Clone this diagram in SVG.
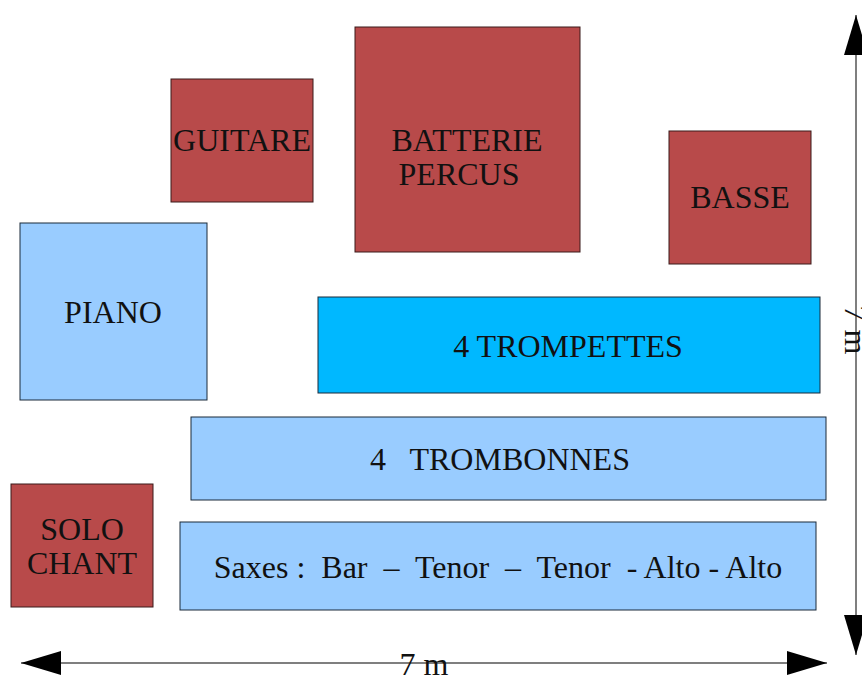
<svg xmlns="http://www.w3.org/2000/svg" width="862" height="675" viewBox="0 0 862 675">
<style>
.red{fill:#b84a4a;stroke:#3a1a1a;stroke-width:1}
.lb{fill:#99ccff;stroke:#1a2a3a;stroke-width:1}
.cy{fill:#00b8ff;stroke:#1a2a3a;stroke-width:1}
text{font-family:"Liberation Serif","Times New Roman",serif;font-size:32px;fill:#111;text-anchor:middle;white-space:pre}
.dim{stroke:#555;stroke-width:1.5;fill:none}
</style>
<defs>
<marker id="ah" viewBox="0 0 40 24" refX="40" refY="12" markerWidth="40" markerHeight="24" markerUnits="userSpaceOnUse" orient="auto">
<path d="M0,0 L40,12 L0,24 Z" fill="#000"/>
</marker>
</defs>
<g id="guitare"><rect class="red" x="171" y="79" width="142" height="123"/><text x="242" y="151">GUITARE</text></g>
<g id="batterie"><rect class="red" x="355" y="27" width="225" height="225"/><text x="467" y="151">BATTERIE</text><text x="459" y="185">PERCUS</text></g>
<g id="basse"><rect class="red" x="669" y="131" width="142" height="133"/><text x="740" y="208">BASSE</text></g>
<g id="piano"><rect class="lb" x="20" y="223" width="187" height="177"/><text x="113" y="323">PIANO</text></g>
<g id="trompettes"><rect class="cy" x="318" y="297" width="502" height="96"/><text x="568" y="357">4 TROMPETTES</text></g>
<g id="trombonnes"><rect class="lb" x="191" y="417" width="635" height="83"/><text x="500" y="470">4   TROMBONNES</text></g>
<g id="solo"><rect class="red" x="11" y="484" width="142" height="123"/><text x="82" y="540">SOLO</text><text x="82" y="574">CHANT</text></g>
<g id="saxes"><rect class="lb" x="180" y="522" width="636" height="88"/><text x="498" y="578">Saxes :  Bar  –  Tenor  –  Tenor  - Alto - Alto</text></g>
<g id="connectors">
<line class="dim" x1="424" y1="663" x2="21" y2="663" marker-end="url(#ah)"/>
<line class="dim" x1="424" y1="663" x2="827" y2="663" marker-end="url(#ah)"/>
<line class="dim" x1="856" y1="330" x2="856" y2="15" marker-end="url(#ah)"/>
<line class="dim" x1="856" y1="330" x2="856" y2="655" marker-end="url(#ah)"/>
</g>
<text x="424" y="675">7 m</text>
<text transform="translate(845,330) rotate(90)" x="0" y="0">7 m</text>
</svg>
